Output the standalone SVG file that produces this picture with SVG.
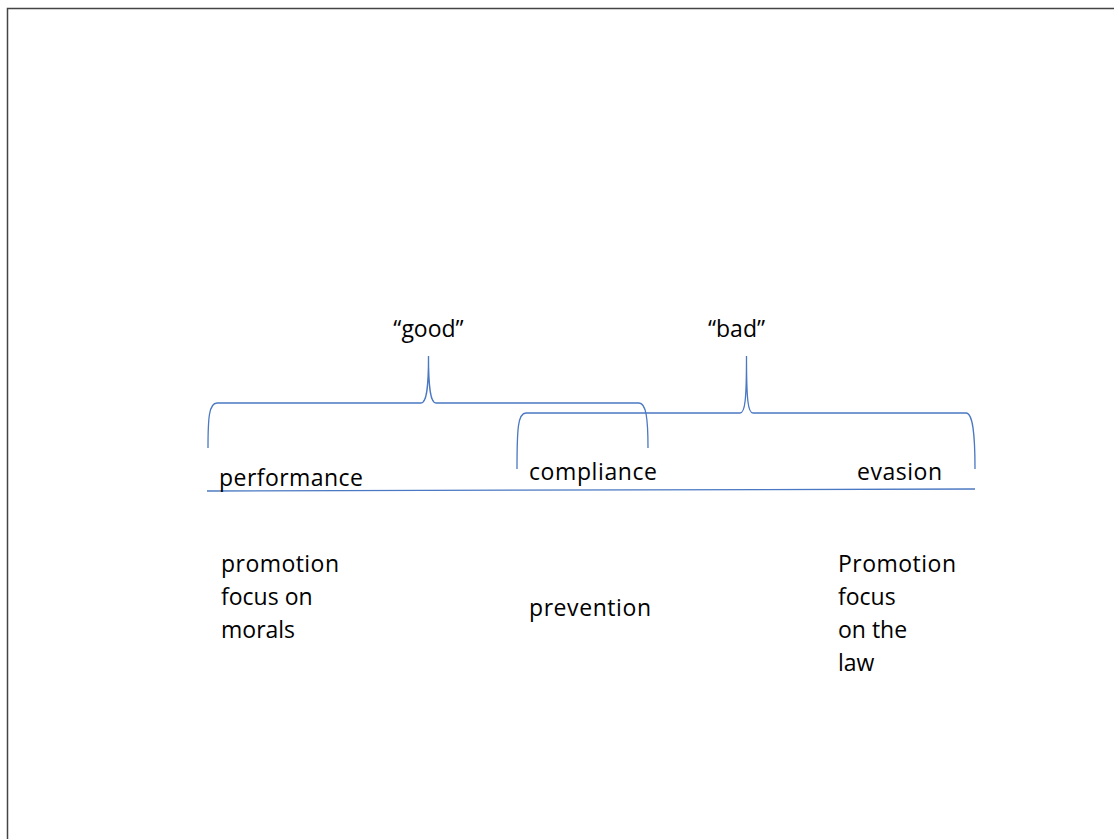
<svg xmlns="http://www.w3.org/2000/svg" width="1114" height="839" viewBox="0 0 1114 839">
<style>
.t{font-family:"Open Sans","Liberation Sans",sans-serif;font-size:23px;fill:#000}
.m{text-anchor:middle}
.c{fill:none;stroke:#4a78c2;stroke-width:1.3}
</style>
<rect x="0" y="0" width="1114" height="839" fill="#fff"/>
<path d="M7.5,845 L7.5,8.5 L1120,8.5" fill="none" stroke="#444" stroke-width="1.5"/>
<g id="connectors">
<path class="c" d="M208,448 C208,418 209,403 217,403 L421,403 C426,403 428.5,392 428.5,356 C428.5,392 431,403 436,403 L639,403 C646,403 648,418 648,448"/>
<path class="c" d="M517,469 C517,428 518,413 526,413 L740,413 C745,413 746.5,400 746.5,356 C746.5,400 748,413 753,413 L966,413 C973,413 975,435 975,469"/>
<path class="c" d="M207,491 L975,489"/>
</g>
<g id="good"><text class="t m" x="428.5" y="337">“good”</text></g>
<g id="bad"><text class="t m" x="736.5" y="337">“bad”</text></g>
<g id="performance"><text class="t" x="219" y="486" textLength="144">performance</text></g>
<g id="compliance"><text class="t" x="529" y="480" textLength="128">compliance</text></g>
<g id="evasion"><text class="t" x="857" y="480" textLength="85">evasion</text></g>
<g id="promotion-morals"><text class="t" x="221" y="572"><tspan x="221" y="572" textLength="118">promotion</tspan><tspan x="221" y="605">focus on</tspan><tspan x="221" y="638">morals</tspan></text></g>
<g id="prevention"><text class="t" x="529" y="616" textLength="122">prevention</text></g>
<g id="promotion-law"><text class="t" x="838" y="572"><tspan x="838" y="572" textLength="118">Promotion</tspan><tspan x="838" y="605">focus</tspan><tspan x="838" y="638">on the</tspan><tspan x="838" y="671">law</tspan></text></g>
</svg>
